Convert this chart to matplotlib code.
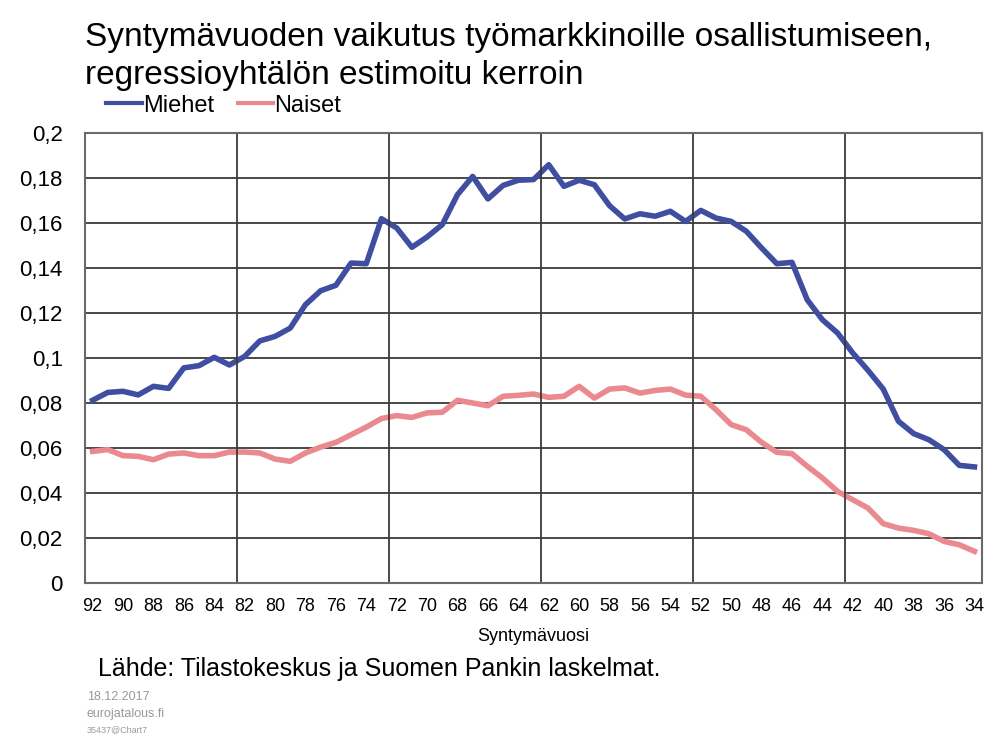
import matplotlib
matplotlib.use('Agg')
import matplotlib.pyplot as plt
from matplotlib.ticker import FuncFormatter

plt.rcParams['font.family'] = ['Liberation Sans', 'DejaVu Sans']

years = [str(y) for y in range(92, 33, -1)]

miehet = [
    0.0812, 0.0847, 0.0852, 0.0836, 0.0874, 0.0865, 0.0956, 0.0966, 0.1003, 0.0969,
    0.1007, 0.1076, 0.1096, 0.1133, 0.1237, 0.1299, 0.1323, 0.1422, 0.1419, 0.1619,
    0.1578, 0.1492, 0.1538, 0.1593, 0.1726, 0.1807, 0.1707, 0.1767, 0.1790, 0.1793,
    0.1859, 0.1763, 0.1790, 0.1770, 0.1677, 0.1618, 0.1641, 0.1630, 0.1652, 0.1607,
    0.1656, 0.1622, 0.1607, 0.1563, 0.1489, 0.1419, 0.1425, 0.1259, 0.1170, 0.1111,
    0.1022, 0.0945, 0.0862, 0.0719, 0.0664, 0.0637, 0.0593, 0.0523, 0.0516,
]

naiset = [
    0.0585, 0.0593, 0.0566, 0.0563, 0.0548, 0.0573, 0.0578, 0.0566, 0.0566, 0.0582,
    0.0582, 0.0578, 0.0551, 0.0541, 0.0578, 0.0604, 0.0625, 0.0659, 0.0693, 0.0731,
    0.0744, 0.0736, 0.0756, 0.0759, 0.0812, 0.0800, 0.0788, 0.0830, 0.0834, 0.0840,
    0.0825, 0.0830, 0.0874, 0.0822, 0.0862, 0.0867, 0.0844, 0.0856, 0.0862, 0.0835,
    0.0830, 0.0770, 0.0704, 0.0681, 0.0625, 0.0581, 0.0575, 0.0519, 0.0467, 0.0407,
    0.0370, 0.0333, 0.0264, 0.0244, 0.0234, 0.0219, 0.0185, 0.0170, 0.0141,
]

fig = plt.figure(figsize=(9.86, 7.38), dpi=100)
ax = fig.add_axes([0.0862, 0.21, 0.9098, 0.6098])

x = list(range(len(years)))
ax.plot(x, miehet, color='#3f4ea0', lw=4, label='Miehet', solid_joinstyle='round')
ax.plot(x, naiset, color='#ea8a8f', lw=4, label='Naiset', solid_joinstyle='round')

ax.set_xlim(-0.5, len(years) - 0.5)
ax.set_ylim(0, 0.2)
ax.set_yticks([i * 0.02 for i in range(11)])
ax.yaxis.set_major_formatter(FuncFormatter(lambda v, p: ('%g' % round(v, 2)).replace('.', ',')))
ax.set_xticks(x[::2])
ax.set_xticklabels(years[::2])
ax.tick_params(axis='x', length=0, labelsize=13, pad=11)
ax.tick_params(axis='y', length=0, labelsize=16, pad=16)

ax.grid(axis='y', color='#3a3a3a', lw=1.3)
for b in range(10, len(years), 10):
    ax.axvline(b - 0.5, color='#3a3a3a', lw=1.3)
for s in ax.spines.values():
    s.set_color('#6a6a6a')
    s.set_linewidth(1.5)

ax.set_xlabel('Syntymävuosi', fontsize=13, labelpad=9)

fig.text(0.086, 0.97, 'Syntymävuoden vaikutus työmarkkinoille osallistumiseen,\nregressioyhtälön estimoitu kerroin',
         fontsize=24, va='top', ha='left', linespacing=1.3)

leg = fig.legend(loc='center left', bbox_to_anchor=(0.108, 0.857), ncol=2, frameon=False,
                 fontsize=17, handlelength=1.5, handletextpad=0.05, columnspacing=1.0,
                 borderaxespad=0, borderpad=0)
for h in leg.get_lines():
    h.set_linewidth(3)

fig.text(0.099, 0.094, 'Lähde: Tilastokeskus ja Suomen Pankin laskelmat.', fontsize=18, va='center')
fig.text(0.088, 0.055, '18.12.2017', fontsize=9, color='#9a9a9a', va='center')
fig.text(0.088, 0.032, 'eurojatalous.fi', fontsize=9, color='#9a9a9a', va='center')
fig.text(0.088, 0.011, '35437@Chart7', fontsize=6.5, color='#9a9a9a', va='center')

fig.savefig('out.png', dpi=100, facecolor='white')
